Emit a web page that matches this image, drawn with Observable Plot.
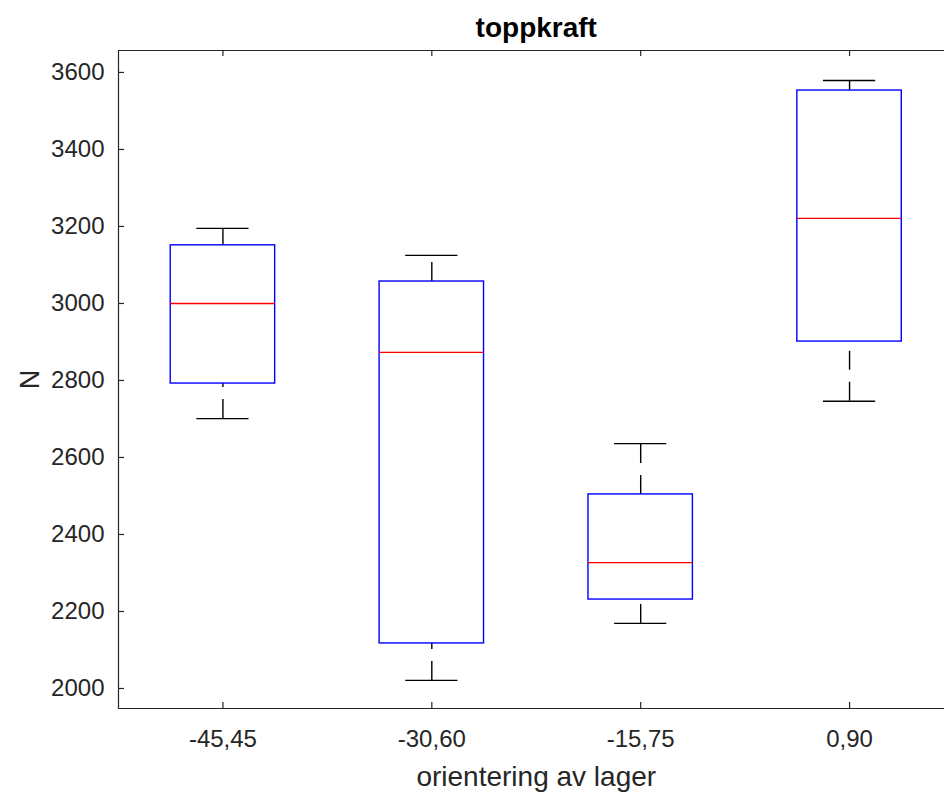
<!DOCTYPE html>
<html>
<head>
<meta charset="utf-8">
<script src="https://cdn.jsdelivr.net/npm/d3@7"></script>
<script src="https://cdn.jsdelivr.net/npm/@observablehq/plot@0.6"></script>
<style>
  html, body { margin: 0; padding: 0; background: #fff; overflow: hidden; }
  #chart svg { display: block; }
</style>
</head>
<body>
<div id="chart"></div>
<script>
const categories = ["-45,45", "-30,60", "-15,75", "0,90"];
const lowerWhisker = [2701, 2021, 2169, 2746];
const q1 = [2792, 2117, 2231, 2901];
const median = [3000, 2873, 2327, 3221];
const q3 = [3151, 3057, 2504, 3553];
const upperWhisker = [3195, 3125, 2636, 3579];
const yTicks = [2000, 2200, 2400, 2600, 2800, 3000, 3200, 3400, 3600];
const titleText = "toppkraft";
const xLabel = "orientering av lager";
const yLabel = "N";

const data = categories.map((c, i) => ({
  pos: i + 1, cat: c,
  lo: lowerWhisker[i], q1: q1[i], med: median[i], q3: q3[i], hi: upperWhisker[i]
}));

const W = 944, H = 794;
const mL = 118, mT = 50, mB = 86;
const frameH = H - mT - mB;
const frameW = W - mL;
const xDomain = [0.5, 4.5];
const yDomain = [1948, 3657];
const boxHalf = 0.25, capHalf = 0.125;
const ink = "#262626";
const font = "Liberation Sans, Arial, Helvetica, sans-serif";

const chart = Plot.plot({
  width: W, height: H,
  marginLeft: mL, marginTop: mT, marginBottom: mB, marginRight: 0,
  style: {fontFamily: font, background: "#fff", color: ink},
  x: {type: "linear", domain: xDomain, range: [mL, 953.5]},
  y: {domain: yDomain, range: [H - mB, mT]},
  marks: [
    Plot.axisY({ticks: yTicks, tickFormat: d => String(d), tickSize: 0, tickPadding: 14, fontSize: 24, fill: ink, label: null}),
    Plot.axisX({ticks: data.map(d => d.pos), tickFormat: p => categories[p - 1], tickSize: 0, tickPadding: 21, fontSize: 24, fill: ink, label: null}),
    Plot.ruleY([yDomain[1]], {stroke: ink, strokeWidth: 1.2}),
    Plot.ruleY([yDomain[0]], {stroke: ink, strokeWidth: 1.2}),
    Plot.ruleX([xDomain[0]], {stroke: ink, strokeWidth: 1.2}),
    Plot.tickY(yTicks, {y: d => d, insetRight: frameW - 6, stroke: ink, strokeWidth: 1.2}),
    Plot.tickX(data, {x: "pos", insetTop: frameH - 6, stroke: ink, strokeWidth: 1.2}),
    Plot.tickX(data, {x: "pos", insetBottom: frameH - 6, stroke: ink, strokeWidth: 1.2}),
    Plot.ruleX(data, {x: "pos", y1: "lo", y2: "q1", stroke: "#000", strokeWidth: 1.4, strokeDasharray: "19,12"}),
    Plot.ruleX(data, {x: "pos", y1: "q3", y2: "hi", stroke: "#000", strokeWidth: 1.4, strokeDasharray: "19,12"}),
    Plot.ruleY(data, {y: "lo", x1: d => d.pos - capHalf, x2: d => d.pos + capHalf, stroke: "#000", strokeWidth: 1.4}),
    Plot.ruleY(data, {y: "hi", x1: d => d.pos - capHalf, x2: d => d.pos + capHalf, stroke: "#000", strokeWidth: 1.4}),
    Plot.rect(data, {x1: d => d.pos - boxHalf, x2: d => d.pos + boxHalf, y1: "q1", y2: "q3", fill: "none", stroke: "#0000ff", strokeWidth: 1.4}),
    Plot.ruleY(data, {y: "med", x1: d => d.pos - boxHalf, x2: d => d.pos + boxHalf, stroke: "#ff0000", strokeWidth: 1.4}),
    Plot.text([titleText], {x: d3.mean(xDomain), y: yDomain[1], dy: -14, text: d => d, lineAnchor: "bottom", fontSize: 28, fontWeight: "bold", fill: "#000"}),
    Plot.text([xLabel], {x: d3.mean(xDomain), y: yDomain[0], dy: 77, text: d => d, lineAnchor: "bottom", fontSize: 28, fill: ink}),
    Plot.text([yLabel], {x: xDomain[0], y: d3.mean(yDomain), dx: -88, text: d => d, rotate: -90, fontSize: 27, fill: ink})
  ]
});
document.getElementById("chart").appendChild(chart);
</script>
</body>
</html>
